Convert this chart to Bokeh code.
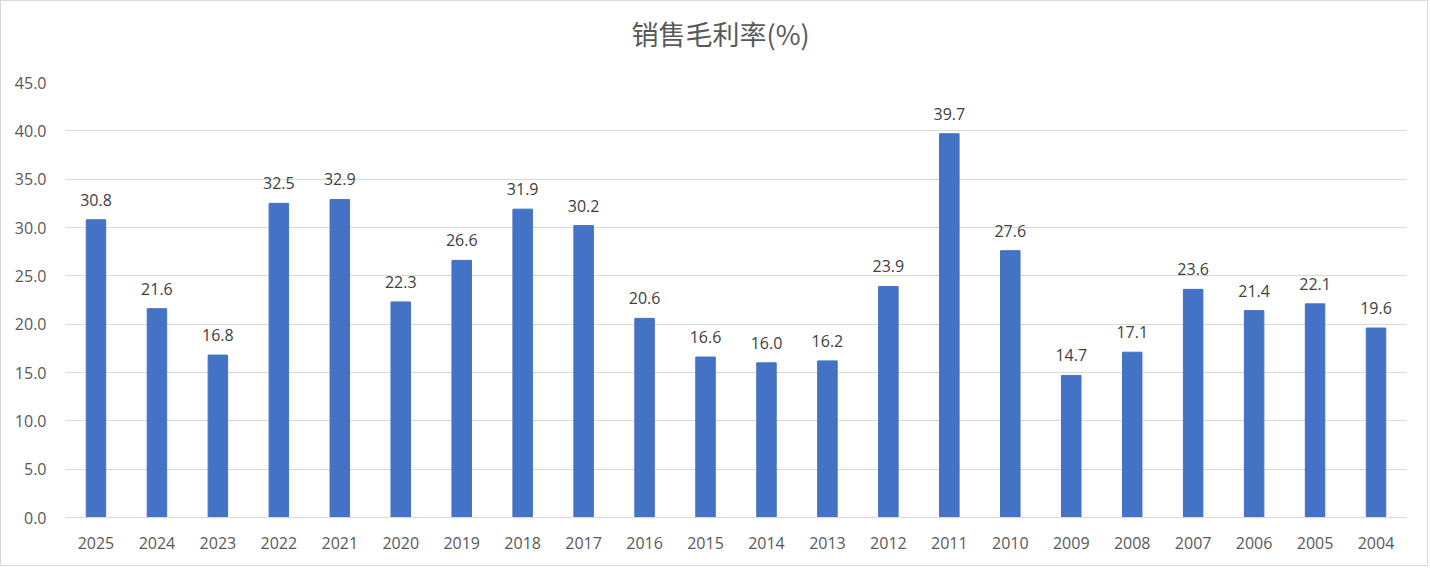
from bokeh.plotting import figure
from bokeh.models import ColumnDataSource, FactorRange, Range1d, LabelSet, Title, FixedTicker, NumeralTickFormatter
from bokeh.core.properties import value
from bokeh.embed import file_html
from bokeh.resources import INLINE

years = ["2025", "2024", "2023", "2022", "2021", "2020", "2019", "2018", "2017", "2016", "2015",
         "2014", "2013", "2012", "2011", "2010", "2009", "2008", "2007", "2006", "2005", "2004"]
margin = [30.8, 21.6, 16.8, 32.5, 32.9, 22.3, 26.6, 31.9, 30.2, 20.6, 16.6,
          16.0, 16.2, 23.9, 39.7, 27.6, 14.7, 17.1, 23.6, 21.4, 22.1, 19.6]
y_ticks = [0, 5, 10, 15, 20, 25, 30, 35, 40, 45]
title_text = "销售毛利率(%)"

src = ColumnDataSource(dict(year=years, val=margin, lab=[f"{v:.1f}" for v in margin]))

p = figure(width=1428, height=566, x_range=FactorRange(*years), y_range=Range1d(0, 45),
           output_backend="svg", toolbar_location=None, title=title_text,
           min_border_left=64, min_border_right=23, min_border_bottom=50, min_border_top=81)

p.vbar(x="year", top="val", width=0.32, source=src, color="#4472C4")

labels = LabelSet(x="year", y="val", text="lab", source=src, y_offset=14,
                  text_align="center", text_baseline="bottom", text_font_size="16px",
                  text_color="#404040", text_font=value("Open Sans"))
p.add_layout(labels)

p.title.text_font = "Noto Sans CJK SC"
p.title.text_font_size = "27px"
p.title.text_font_style = "normal"
p.title.text_color = "#595959"
p.title.align = "left"
p.title.offset = 566
p.title.standoff = 0

spacer = Title(text=" ", text_font_size="1px", standoff=27)
p.add_layout(spacer, "above")

p.yaxis.ticker = FixedTicker(ticks=y_ticks)
p.yaxis.formatter = NumeralTickFormatter(format="0.0")
p.yaxis.axis_line_color = None
p.yaxis.major_tick_line_color = None
p.yaxis.minor_tick_line_color = None
p.yaxis.major_label_text_font = "Open Sans"
p.yaxis.major_label_text_font_size = "16px"
p.yaxis.major_label_text_color = "#595959"
p.yaxis.major_label_standoff = 13

p.xaxis.axis_line_color = "#d9d9d9"
p.xaxis.major_tick_line_color = None
p.xaxis.minor_tick_line_color = None
p.xaxis.major_label_text_font = "Open Sans"
p.xaxis.major_label_text_font_size = "16px"
p.xaxis.major_label_text_color = "#595959"
p.xaxis.major_label_standoff = 13

p.xgrid.grid_line_color = None
p.ygrid.grid_line_color = "#d9d9d9"
p.ygrid.grid_line_width = 1
p.outline_line_color = None
p.x_range.range_padding = 0
p.styles = {"border": "1px solid #d9d9d9"}

open("out.html", "w").write(file_html(p, INLINE))
